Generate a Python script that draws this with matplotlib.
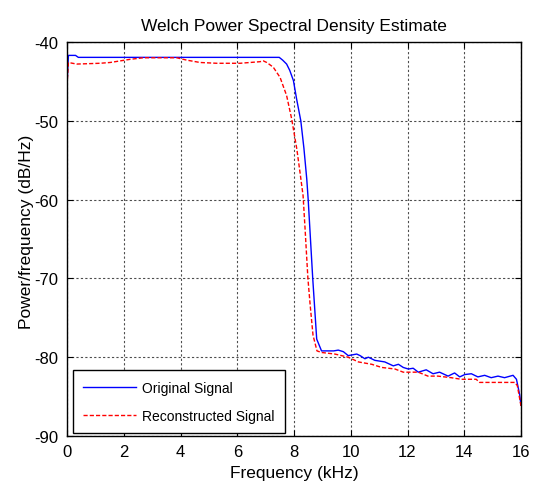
import numpy as np
import matplotlib
matplotlib.use('Agg')
import matplotlib.pyplot as plt

# frequencies (kHz) and PSD (dB/Hz)
freq_orig = [0.0, 0.05, 0.3, 0.4, 7.3, 7.48, 7.6, 7.74, 7.85, 7.98, 8.09, 8.24,
             8.35, 8.45, 8.5, 8.66, 8.8, 8.97, 9.4, 9.56, 9.74, 9.91, 10.21,
             10.33, 10.5, 10.62, 10.85, 11.2, 11.5, 11.68, 11.85, 12.03, 12.2,
             12.38, 12.66, 12.9, 13.13, 13.43, 13.66, 13.84, 14.02, 14.25,
             14.48, 14.72, 14.95, 15.19, 15.42, 15.72, 15.84, 15.95, 16.0]
psd_orig = [-45.5, -41.7, -41.7, -41.95, -41.95, -41.95, -42.3, -42.8, -43.6,
            -44.9, -47.2, -50.0, -53.5, -57.4, -60.0, -70.0, -77.7, -79.2,
            -79.2, -79.1, -79.3, -79.8, -79.6, -79.8, -80.2, -80.0, -80.4,
            -80.6, -81.1, -80.9, -81.3, -81.5, -81.4, -81.9, -81.6, -82.1,
            -81.9, -82.4, -82.0, -82.5, -82.2, -82.1, -82.5, -82.3, -82.6,
            -82.4, -82.6, -82.3, -82.8, -84.7, -86.1]

freq_rec = [0.0, 0.05, 0.34, 1.16, 1.52, 1.87, 2.22, 2.69, 3.87, 4.22, 4.69,
            5.28, 6.1, 6.8, 6.92, 7.04, 7.27, 7.51, 7.74, 7.92, 8.1, 8.21,
            8.32, 8.39, 8.49, 8.57, 8.67, 8.81, 8.97, 9.44, 9.91, 10.27,
            10.74, 11.09, 11.56, 11.85, 12.38, 12.72, 13.07, 13.54, 13.89,
            14.42, 14.54, 15.78, 15.87, 16.0]
psd_rec = [-45.5, -42.6, -42.8, -42.7, -42.6, -42.4, -42.2, -42.0, -42.0,
           -42.3, -42.6, -42.7, -42.7, -42.5, -42.4, -42.6, -43.2, -44.5,
           -46.8, -49.8, -53.6, -56.5, -59.5, -63.7, -70.0, -73.4, -77.2,
           -79.2, -79.4, -79.6, -80.0, -80.6, -80.9, -81.3, -81.5, -81.9,
           -81.9, -82.4, -82.4, -82.6, -82.8, -82.8, -83.2, -83.2, -83.6,
           -86.2]

x_ticks = [0, 2, 4, 6, 8, 10, 12, 14, 16]
y_ticks = [-90, -80, -70, -60, -50, -40]

plt.rcParams['font.family'] = ['Liberation Sans', 'DejaVu Sans']
plt.rcParams['axes.unicode_minus'] = False

fig = plt.figure(figsize=(5.33, 5.02), dpi=100)
ax = fig.add_axes([67 / 533, 1 - 437 / 502, 454 / 533, 394 / 502])

ax.plot(freq_orig, psd_orig, color='#0000ff', lw=1.0, label='Original Signal')
ax.plot(freq_rec, psd_rec, color='#ff0000', lw=1.0, ls=(0, (3, 1.5)),
        label='Reconstructed Signal')

ax.set_xlim(0, 16)
ax.set_ylim(-90, -40)
ax.set_xticks(x_ticks)
ax.set_yticks(y_ticks)
ax.tick_params(direction='in', top=True, right=True, length=4,
               labelsize=12, pad=6, width=0.8)
ax.grid(True, color='0.3', ls=(0, (2, 2)), lw=0.8)
for sp in ax.spines.values():
    sp.set_linewidth(1.0)

ax.set_title('Welch Power Spectral Density Estimate', fontsize=12.5, pad=9)
ax.set_xlabel('Frequency (kHz)', fontsize=12.5, labelpad=4)
ax.set_ylabel('Power/frequency (dB/Hz)', fontsize=12.5)
ax.yaxis.set_label_coords(-0.072, 0.52)

leg = ax.legend(loc='lower left', bbox_to_anchor=(6 / 454, 3 / 394),
                borderaxespad=0, fontsize=10, handlelength=3.8,
                handletextpad=0.4, labelspacing=1.0, borderpad=0.75,
                fancybox=False, framealpha=1, edgecolor='black')
leg.get_frame().set_linewidth(1.0)

fig.savefig('out.png', dpi=100)
